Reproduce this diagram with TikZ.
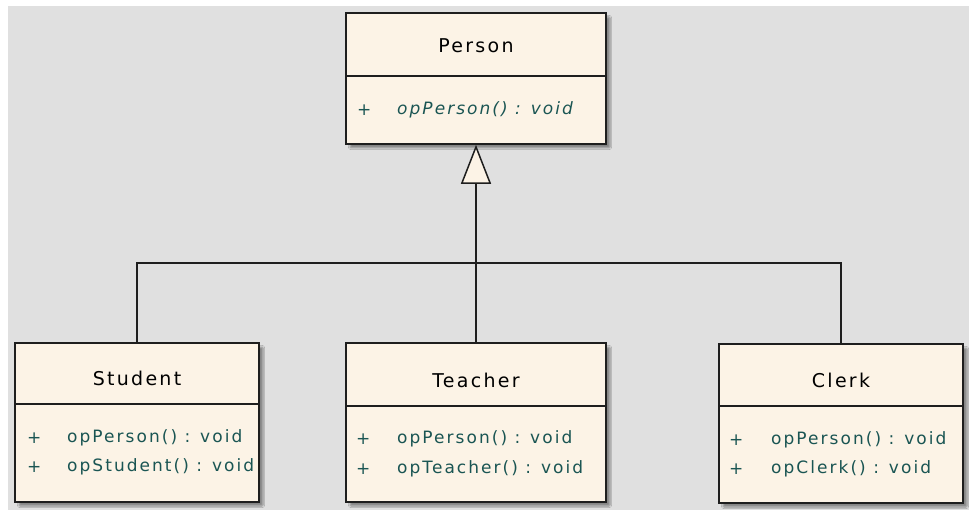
\documentclass[tikz,border=0pt]{standalone}
\usepackage{fontspec}
\usetikzlibrary{arrows.meta,shadows.blur}
\newfontfamily\titlefont{DejaVu Sans}[LetterSpace=12]
\newfontfamily\opfont{DejaVu Sans}[LetterSpace=12]
\definecolor{boxfill}{HTML}{FCF3E6}
\definecolor{canvasgray}{HTML}{E0E0E0}
\definecolor{edge}{HTML}{1E1E1E}
\definecolor{optext}{HTML}{1A5553}
\tikzset{
  classbox/.style={draw=edge, line width=1.6pt, fill=boxfill, rectangle,
    inner sep=0pt,
    blur shadow={shadow xshift=4pt, shadow yshift=-4pt, shadow blur steps=6,
      shadow blur extra rounding=1pt, shadow opacity=40}},
  divider/.style={draw=edge, line width=1.4pt},
  classname/.style={font=\titlefont\fontsize{19}{22}\selectfont, text=black, inner sep=0pt},
  vis/.style={font=\opfont\fontsize{17}{19}\selectfont, text=optext, anchor=west, inner sep=0pt},
  oper/.style={font=\opfont\fontsize{17}{19}\selectfont, text=optext, anchor=west, inner sep=0pt},
  link/.style={draw=edge, line width=1.5pt},
}
\begin{document}
\begin{tikzpicture}[x=1pt, y=-1pt]
  % page and canvas
  \fill[white] (0,0) rectangle (969,510);
  \fill[canvasgray] (8,6) rectangle (969,510);
  \useasboundingbox (0,0) rectangle (969,510);

  % class boxes
  \node[classbox, minimum width=260pt, minimum height=131pt] (person)  at (476,78.5) {};
  \node[classbox, minimum width=244pt, minimum height=159pt] (student) at (137,422.5) {};
  \node[classbox, minimum width=260pt, minimum height=159pt] (teacher) at (476,422.5) {};
  \node[classbox, minimum width=244pt, minimum height=159pt] (clerk)   at (841,423.5) {};

  % compartment dividers
  \draw[divider] (person.west |- 0,76)   -- (person.east |- 0,76);
  \draw[divider] (student.west |- 0,404) -- (student.east |- 0,404);
  \draw[divider] (teacher.west |- 0,406) -- (teacher.east |- 0,406);
  \draw[divider] (clerk.west |- 0,406)   -- (clerk.east |- 0,406);

  % Person
  \node[classname] (personname) at (476,46) {Person};
  \node[vis]  (personvis) at (357,110) {+};
  \node[oper] (personop)  at (397,110) {\itshape opPerson() : void};

  % Student
  \node[classname] (studentname) at (137,378) {Student};
  \node[vis]  (studentvis1) at (27,438) {+};
  \node[oper] (studentop1)  at (67,438) {opPerson() : void};
  \node[vis]  (studentvis2) at (27,467) {+};
  \node[oper] (studentop2)  at (67,467) {opStudent() : void};

  % Teacher
  \node[classname] (teachername) at (476,380) {Teacher};
  \node[vis]  (teachervis1) at (356,439) {+};
  \node[oper] (teacherop1)  at (397,439) {opPerson() : void};
  \node[vis]  (teachervis2) at (356,469) {+};
  \node[oper] (teacherop2)  at (397,469) {opTeacher() : void};

  % Clerk
  \node[classname] (clerkname) at (841,380) {Clerk};
  \node[vis]  (clerkvis1) at (729,440) {+};
  \node[oper] (clerkop1)  at (771,440) {opPerson() : void};
  \node[vis]  (clerkvis2) at (729,469) {+};
  \node[oper] (clerkop2)  at (771,469) {opClerk() : void};

  % generalisation tree
  \coordinate (bus) at (476,263);
  \draw[link] (student.north) |- (bus) -| (clerk.north);
  \draw[link] (teacher.north) -- (bus);
  \draw[link, -{Triangle[width=30pt, length=39pt, fill=boxfill, line width=1.5pt]}]
    (bus) -- (person.south);
\end{tikzpicture}
\end{document}
